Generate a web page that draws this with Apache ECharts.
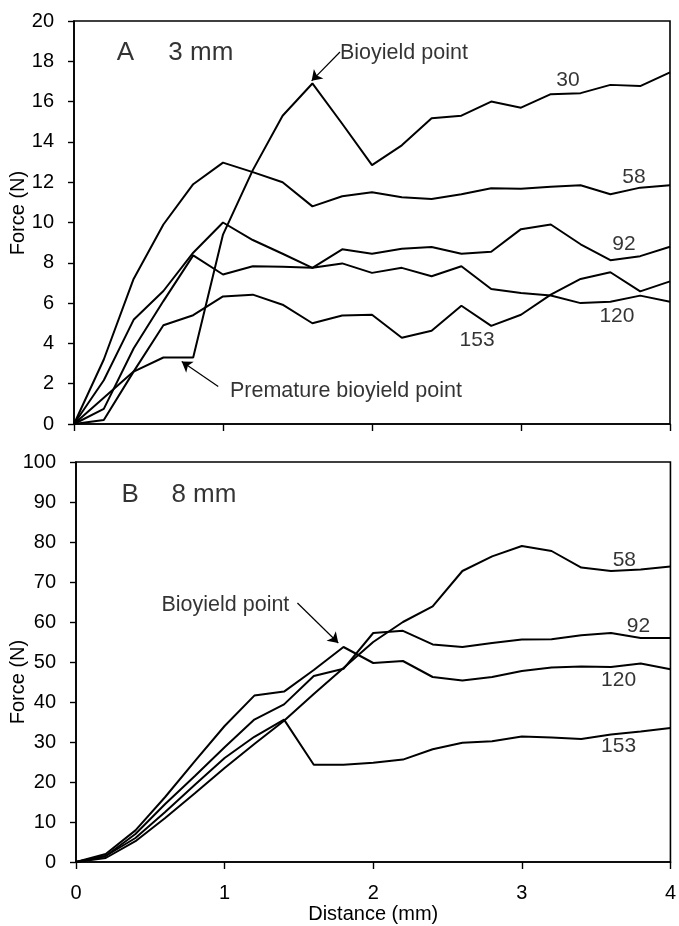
<!DOCTYPE html>
<html>
<head>
<meta charset="utf-8">
<script src="https://cdn.jsdelivr.net/npm/echarts@6/dist/echarts.min.js"></script>
<style>
  html, body { margin: 0; padding: 0; background: #fff; }
  #chart { width: 679px; height: 926px; }
</style>
</head>
<body>
<div id="chart"></div>
<script>
// Distance (mm) at which force was sampled
const distance = [0, 0.2, 0.4, 0.6, 0.8, 1.0, 1.2, 1.4, 1.6, 1.8, 2.0, 2.2, 2.4, 2.6, 2.8, 3.0, 3.2, 3.4, 3.6, 3.8, 4.0];

// Panel A: 3 mm probe, force (N) per storage day
const a30  = [0, 1.3, 2.6, 3.3, 3.3, 9.4, 12.6, 15.3, 16.9, 14.9, 12.85, 13.83, 15.17, 15.3, 16.0, 15.7, 16.37, 16.42, 16.83, 16.77, 17.45];
const a58  = [0, 3.2, 7.2, 9.9, 11.9, 12.97, 12.5, 12.0, 10.8, 11.3, 11.5, 11.25, 11.17, 11.4, 11.7, 11.67, 11.78, 11.85, 11.4, 11.73, 11.85];
const a92  = [0, 2.17, 5.17, 6.6, 8.5, 10.0, 9.13, 8.45, 7.75, 8.67, 8.45, 8.7, 8.78, 8.45, 8.55, 9.67, 9.9, 8.92, 8.13, 8.33, 8.8];
const a120 = [0, 0.75, 3.75, 6.1, 8.37, 7.42, 7.83, 7.8, 7.75, 7.97, 7.5, 7.75, 7.33, 7.83, 6.7, 6.5, 6.38, 6.0, 6.07, 6.37, 6.07];
const a153 = [0, 0.2, 2.6, 4.9, 5.4, 6.33, 6.42, 5.92, 5.0, 5.38, 5.42, 4.28, 4.63, 5.87, 4.87, 5.42, 6.42, 7.2, 7.53, 6.58, 7.08];

// Panel B: 8 mm probe
const b58  = [0, 1.0, 5.2, 11, 17.2, 23.5, 29.5, 35.3, 42, 48.5, 55, 60, 63.9, 72.75, 76.4, 79, 77.75, 73.6, 72.75, 73.1, 73.9];
const b92  = [0, 1.5, 7, 14.5, 21.5, 28.7, 35.6, 39.4, 46.5, 48.3, 57.25, 57.8, 54.4, 53.75, 54.75, 55.6, 55.7, 56.7, 57.25, 56, 56];
const b120 = [0, 2, 7.9, 16.25, 25.2, 34, 41.6, 42.6, 48, 53.75, 49.75, 50.25, 46.25, 45.4, 46.25, 47.75, 48.6, 48.9, 48.75, 49.6, 48.2];
const b153 = [0, 1.5, 6, 12.5, 19.3, 26, 31.3, 35.6, 24.3, 24.3, 24.8, 25.6, 28.2, 29.8, 30.2, 31.4, 31.1, 30.75, 31.9, 32.6, 33.5];

// Axis ranges and tick steps
const xTicks = [0, 4, 1];
const yTicksA = [0, 20, 2];
const yTicksB = [0, 100, 10];

// Curve labels [x, y, text] in data units
const curveLabelsA = [[3.315, 17.06, '30'], [3.758, 12.24, '58'], [3.691, 8.91, '92'], [3.644, 5.37, '120'], [2.705, 4.18, '153']];
const curveLabelsB = [[3.69, 75.5, '58'], [3.785, 59, '92'], [3.651, 45.5, '120'], [3.651, 29, '153']];

// Left-aligned notes [x, y, text]
const notesA = [[1.785, 18.41, 'Bioyield point'], [1.047, 1.64, 'Premature bioyield point']];
const notesB = [[0.575, 64.25, 'Bioyield point']];
const panelTitlesA = [[0.287, 18.41, 'A'], [0.633, 18.41, '3 mm']];
const panelTitlesB = [[0.307, 91.75, 'B'], [0.642, 91.75, '8 mm']];

// Arrows [fromX, fromY, toX, toY]
const arrowsA = [[1.785, 18.46, 1.595, 17.03], [0.968, 1.856, 0.723, 3.1]];
const arrowsB = [[1.49, 64.75, 1.765, 54.75]];

const FONT = 'Liberation Sans, Arial, Helvetica, sans-serif';
const toPairs = ys => ys.map((y, i) => [distance[i], y]);

function curve(ys, idx, arrows) {
  const s = {
    type: 'line', xAxisIndex: idx, yAxisIndex: idx,
    data: toPairs(ys), showSymbol: false, symbol: 'none', silent: true,
    lineStyle: { color: '#000', width: 2 }, z: 3
  };
  if (arrows) {
    s.markLine = {
      silent: true, symbol: ['none', 'arrow'], symbolSize: 10,
      itemStyle: { color: '#000' },
      lineStyle: { color: '#000', width: 1.2, type: 'solid' },
      label: { show: false },
      data: arrows.map(a => [{ coord: [a[0], a[1]] }, { coord: [a[2], a[3]] }])
    };
  }
  return s;
}

function textSeries(items, idx, size, position) {
  return {
    type: 'scatter', xAxisIndex: idx, yAxisIndex: idx, silent: true,
    symbolSize: 0, z: 5,
    data: items.map(t => ({ value: [t[0], t[1]], name: t[2] })),
    label: {
      show: true, position: position, distance: 0,
      formatter: p => p.name, color: '#000', fontSize: size, fontFamily: FONT,
      textBorderWidth: 0, textShadowBlur: 0
    }
  };
}

function xAxis(idx, showLabels) {
  return {
    type: 'value', gridIndex: idx, min: xTicks[0], max: xTicks[1], interval: xTicks[2],
    axisLine: { lineStyle: { color: '#000', width: 1.6 } },
    axisTick: { show: true, inside: false, length: 7, lineStyle: { color: '#000', width: 1.4 } },
    axisLabel: { show: showLabels, color: '#000', fontSize: 20, fontFamily: FONT, margin: 21 },
    splitLine: { show: false },
    name: showLabels ? 'Distance (mm)' : '', nameLocation: 'middle', nameGap: 42,
    nameTextStyle: { color: '#000', fontSize: 20, fontFamily: FONT }
  };
}

function yAxis(idx, t) {
  return {
    type: 'value', gridIndex: idx, min: t[0], max: t[1], interval: t[2],
    axisLine: { show: true, lineStyle: { color: '#000', width: 1.6 } },
    axisTick: { show: true, inside: false, length: 6, lineStyle: { color: '#000', width: 1.4 } },
    axisLabel: { color: '#000', fontSize: 20, fontFamily: FONT, margin: 20 },
    splitLine: { show: false }
  };
}

const chart = echarts.init(document.getElementById('chart'), null, { renderer: 'canvas' });
chart.setOption({
  backgroundColor: '#fff',
  animation: false,
  grid: [
    { left: 74, top: 21, width: 596, height: 403, show: true, borderColor: '#000', borderWidth: 1.6, backgroundColor: 'transparent' },
    { left: 76, top: 462, width: 596, height: 400, show: true, borderColor: '#000', borderWidth: 1.6, backgroundColor: 'transparent' }
  ],
  xAxis: [xAxis(0, false), xAxis(1, true)],
  yAxis: [yAxis(0, yTicksA), yAxis(1, yTicksB)],
  graphic: [
    { type: 'text', x: 18, y: 213, rotation: Math.PI / 2,
      style: { text: 'Force (N)', fontSize: 20, fontFamily: FONT, fill: '#000', align: 'center', verticalAlign: 'middle' } },
    { type: 'text', x: 18, y: 682, rotation: Math.PI / 2,
      style: { text: 'Force (N)', fontSize: 20, fontFamily: FONT, fill: '#000', align: 'center', verticalAlign: 'middle' } }
  ],
  series: [
    curve(a30, 0, arrowsA), curve(a58, 0), curve(a92, 0), curve(a120, 0), curve(a153, 0),
    curve(b58, 1, arrowsB), curve(b92, 1), curve(b120, 1), curve(b153, 1),
    textSeries(curveLabelsA, 0, 21, 'inside'),
    textSeries(curveLabelsB, 1, 21, 'inside'),
    textSeries(notesA, 0, 21.5, 'right'),
    textSeries(notesB, 1, 21.5, 'right'),
    textSeries(panelTitlesA, 0, 26, 'right'),
    textSeries(panelTitlesB, 1, 26, 'right')
  ]
});
</script>
</body>
</html>
